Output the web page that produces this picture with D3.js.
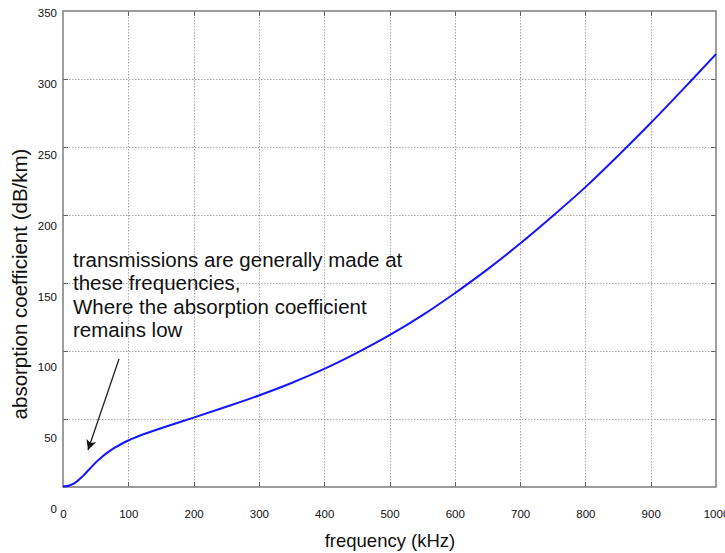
<!DOCTYPE html>
<html>
<head>
<meta charset="utf-8">
<script src="https://cdn.jsdelivr.net/npm/d3@7"></script>
<style>
  html, body { margin: 0; padding: 0; background: #fff; }
  svg { display: block; }
</style>
</head>
<body>
<svg id="chart" width="725" height="553"></svg>
<script>
// ---- data ----
const freq = [0, 10, 20, 30, 40, 50, 60, 70, 80, 90, 100, 110, 120, 150, 200, 250, 300, 350, 400, 450, 500, 550, 600, 650, 700, 750, 800, 850, 900, 950, 1000];
const absorption = [0.3, 1.1, 3.6, 7.8, 12.9, 17.9, 22.3, 26, 29.1, 31.8, 34.2, 36.3, 38.2, 43.2, 51, 59, 67.3, 76.5, 86.8, 98.6, 111.6, 126.2, 142.5, 160, 179, 199.3, 220.5, 243.6, 267.6, 292.7, 318.3];
const xTicks = [0, 100, 200, 300, 400, 500, 600, 700, 800, 900, 1000];
const yTicks = [0, 50, 100, 150, 200, 250, 300, 350];
const xTitle = "frequency (kHz)";
const yTitle = "absorption coefficient (dB/km)";
const noteLines = ["transmissions are generally made at", "these frequencies,", "Where the absorption coefficient", "remains low"];

// ---- layout ----
const L = 63, R = 716, T = 11, B = 487;
const svg = d3.select("#chart");
const font = "'Liberation Sans', Arial, sans-serif";

const x = d3.scaleLinear().domain([0, 1000]).range([L, R]);
const y = d3.scaleLinear().domain([0, 350]).range([B, T]);
// tick labels in the reference sit on a slightly stretched scale
const yLab = d3.scaleLinear().domain([0, 350]).range([509, 13]);

// grid
const grid = svg.append("g").attr("stroke", "#a8a8a8").attr("stroke-width", 1).attr("stroke-dasharray", "1.5,1.5");
grid.selectAll("line.v").data(xTicks.filter(d => d > 0 && d < 1000)).join("line")
  .attr("x1", d => Math.round(x(d)) + 0.5).attr("x2", d => Math.round(x(d)) + 0.5)
  .attr("y1", T).attr("y2", B);
grid.selectAll("line.h").data(yTicks.filter(d => d > 0 && d < 350)).join("line")
  .attr("y1", d => Math.round(y(d)) + 0.5).attr("y2", d => Math.round(y(d)) + 0.5)
  .attr("x1", L).attr("x2", R);

// inner tick marks
const tk = svg.append("g").attr("stroke", "#606060").attr("stroke-width", 1);
const tl = 5;
xTicks.filter(d => d > 0 && d < 1000).forEach(d => {
  const px = Math.round(x(d)) + 0.5;
  tk.append("line").attr("x1", px).attr("x2", px).attr("y1", B).attr("y2", B - tl);
  tk.append("line").attr("x1", px).attr("x2", px).attr("y1", T).attr("y2", T + tl);
});
yTicks.filter(d => d > 0 && d < 350).forEach(d => {
  const py = Math.round(y(d)) + 0.5;
  tk.append("line").attr("y1", py).attr("y2", py).attr("x1", L).attr("x2", L + tl);
  tk.append("line").attr("y1", py).attr("y2", py).attr("x1", R).attr("x2", R - tl);
});

// frame
svg.append("rect").attr("x", L).attr("y", T).attr("width", R - L).attr("height", B - T)
  .attr("fill", "none").attr("stroke", "#858585").attr("stroke-width", 1.6);

// axes labels via d3 axes
const yAxis = svg.append("g").attr("transform", "translate(57,0)")
  .call(d3.axisLeft(yLab).tickValues(yTicks).tickFormat(d3.format("d")).tickSize(0).tickPadding(0));
yAxis.select(".domain").remove();
yAxis.selectAll("text").attr("font-family", font).attr("font-size", 11.5).attr("fill", "#111");

const xAxis = svg.append("g").attr("transform", "translate(0,510)")
  .call(d3.axisBottom(x).tickValues(xTicks).tickFormat(d3.format("d")).tickSize(0).tickPadding(0));
xAxis.select(".domain").remove();
xAxis.selectAll("text").attr("font-family", font).attr("font-size", 11.5).attr("fill", "#111");

// curve
const line = d3.line().x((d, i) => x(freq[i])).y(d => y(d)).curve(d3.curveCatmullRom.alpha(0.5));
svg.append("path").datum(absorption).attr("d", line)
  .attr("fill", "none").attr("stroke", "#1515ff").attr("stroke-width", 2);

// titles
svg.append("text").attr("x", 390).attr("y", 547).attr("text-anchor", "middle")
  .attr("font-family", font).attr("font-size", 18.5).attr("fill", "#111").text(xTitle);
svg.append("text").attr("transform", "translate(27,284) rotate(-90)").attr("text-anchor", "middle")
  .attr("font-family", font).attr("font-size", 20.5).attr("fill", "#111").text(yTitle);

// annotation
const note = svg.append("text").attr("font-family", font).attr("font-size", 20.5).attr("fill", "#111");
noteLines.forEach((t, i) => note.append("tspan").attr("x", 73).attr("y", 267 + i * 23.3).text(t));

// arrow
const defs = svg.append("defs");
defs.append("marker").attr("id", "ah").attr("viewBox", "0 0 10 10").attr("refX", 10).attr("refY", 5)
  .attr("markerWidth", 10).attr("markerHeight", 10).attr("markerUnits", "userSpaceOnUse")
  .attr("orient", "auto")
  .append("path").attr("d", "M0,0 L10,5 L0,10 L2.5,5 Z").attr("fill", "#111");
svg.append("line").attr("x1", 119).attr("y1", 359).attr("x2", 88).attr("y2", 450)
  .attr("stroke", "#222").attr("stroke-width", 1.3).attr("marker-end", "url(#ah)");
</script>
</body>
</html>
